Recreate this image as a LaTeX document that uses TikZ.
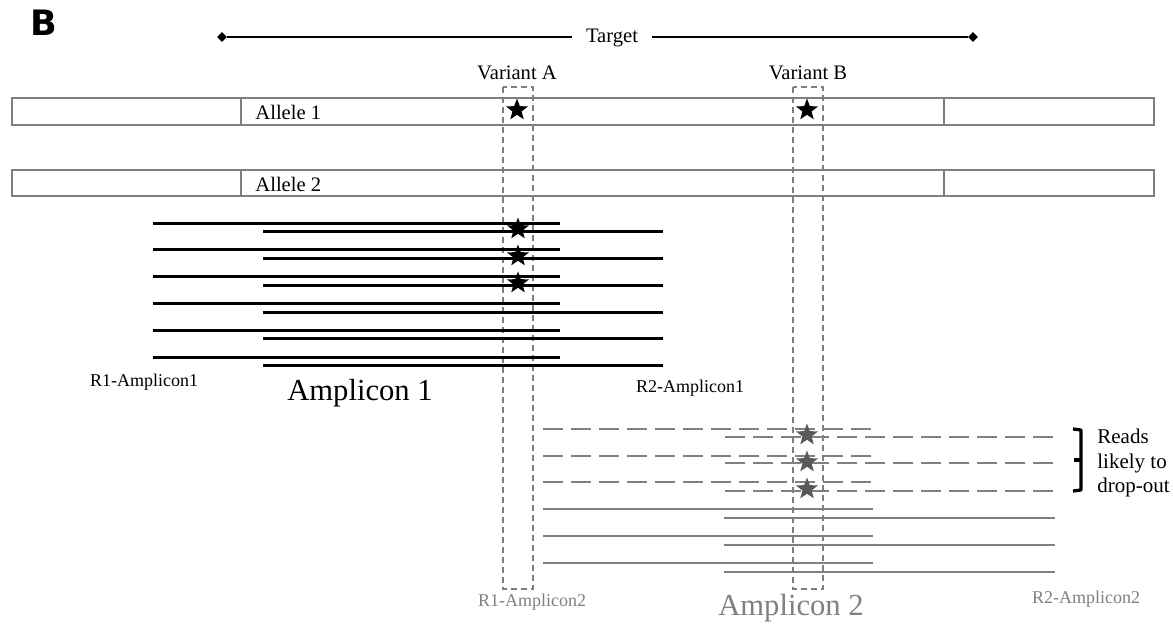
\documentclass[tikz,border=0pt]{standalone}
\usepackage{fontspec}
\setmainfont{Liberation Serif}
\newfontfamily\panelfont{DejaVu Sans}
\usetikzlibrary{shapes.geometric}
\definecolor{allelegray}{HTML}{7F7F7F}
\definecolor{ampgray}{HTML}{808080}
\definecolor{stargray}{HTML}{595959}

\begin{document}
\begin{tikzpicture}[x=0.5pt, y=-0.5pt,
    allele/.style={draw=allelegray, line width=1.3pt},
    window/.style={draw=allelegray, dash pattern=on 3pt off 2pt, line width=0.9pt},
    readA/.style={black, line width=1.5pt},
    readB/.style={ampgray, line width=1.2pt},
    dropout/.style={ampgray, line width=1.2pt, dash pattern=on 10pt off 4pt},
    snv/.style={star, star points=5, star point ratio=2.4, fill, inner sep=0pt, minimum size=11.5pt},
    tip/.style={diamond, fill, inner sep=0pt, minimum size=5pt},
    lbl/.style={inner sep=0pt, anchor=base, font=\fontsize{10.3}{12}\selectfont}]
    \useasboundingbox (0, 0) rectangle (1173, 629);
    \node[inner sep=0pt, anchor=base west, font=\panelfont\bfseries\fontsize{17.5}{20}\selectfont] (panel) at (30, 35) {B};
    % target span
    \node[tip] (tl) at (222, 37) {};
    \node[tip] (tr) at (973, 37) {};
    \node[inner xsep=7pt, inner ysep=0pt, font=\fontsize{10.3}{12}\selectfont] (target) at (612, 38) {Target};
    \draw[line width=0.9pt] (tl)--(tl-|target.west);
    \draw[line width=0.9pt] (tr-|target.east)--(tr);
    % alleles
    \draw[allele] (12, 98) rectangle (1154, 125);
    \draw[allele] (241, 98)--(241, 125);
    \draw[allele] (944, 98)--(944, 125);
    \draw[allele] (12, 170) rectangle (1154, 196);
    \draw[allele] (241, 170)--(241, 196);
    \draw[allele] (944, 170)--(944, 196);
    \node[lbl, anchor=base west] (al1) at (255, 119) {Allele 1};
    \node[lbl, anchor=base west] (al2) at (255, 191) {Allele 2};
    % variant windows
    \draw[window] (503, 87) rectangle (533, 589);
    \draw[window] (793, 87) rectangle (823, 589);
    \node[lbl] (varA) at (517, 79) {Variant A};
    \node[lbl] (varB) at (808, 79) {Variant B};
    \node[snv] (sA) at (517, 110) {};
    \node[snv] (sB) at (807, 110) {};
    % amplicon 1 reads
    \draw[readA] (153, 223)--(560, 223);
    \draw[readA] (153, 249)--(560, 249);
    \draw[readA] (153, 276)--(560, 276);
    \draw[readA] (153, 303)--(560, 303);
    \draw[readA] (153, 330)--(560, 330);
    \draw[readA] (153, 357)--(560, 357);
    \draw[readA] (263, 231)--(663, 231);
    \draw[readA] (263, 258)--(663, 258);
    \draw[readA] (263, 285)--(663, 285);
    \draw[readA] (263, 312)--(663, 312);
    \draw[readA] (263, 338)--(663, 338);
    \draw[readA] (263, 365)--(663, 365);
    \node[snv] (r1) at (518, 229) {};
    \node[snv] (r2) at (518, 256) {};
    \node[snv] (r3) at (518, 283) {};
    \node[lbl, font=\fontsize{9}{10}\selectfont] (fw1) at (144, 386) {R1-Amplicon1};
    \node[lbl, font=\fontsize{15.3}{18}\selectfont] (amp1) at (360, 400) {Amplicon 1};
    \node[lbl, font=\fontsize{9}{10}\selectfont] (rv1) at (690, 392) {R2-Amplicon1};
    % amplicon 2 reads
    \draw[dropout] (543, 429)--(873, 429);
    \draw[dropout] (543, 456)--(873, 456);
    \draw[dropout] (543, 482)--(873, 482);
    \draw[dropout] (725, 437)--(1055, 437);
    \draw[dropout] (725, 463)--(1055, 463);
    \draw[dropout] (725, 491)--(1055, 491);
    \draw[readB] (543, 509)--(873, 509);
    \draw[readB] (543, 536)--(873, 536);
    \draw[readB] (543, 563)--(873, 563);
    \draw[readB] (724, 518)--(1055, 518);
    \draw[readB] (724, 545)--(1055, 545);
    \draw[readB] (724, 572)--(1055, 572);
    \node[snv, stargray] (d1) at (807, 435) {};
    \node[snv, stargray] (d2) at (807, 462) {};
    \node[snv, stargray] (d3) at (807, 489) {};
    \draw[line width=1.6pt, line join=round] (1073, 429)--(1081, 430)--(1081, 490)--(1073, 491);
    \draw[line width=1.6pt] (1081, 460)--(1074, 460);
    \node[inner sep=0pt, anchor=north west, align=left, font=\fontsize{10.5}{12.2}\selectfont] (drop) at (1097, 429) {Reads\\likely to\\drop-out};
    \node[lbl, ampgray, font=\fontsize{9}{10}\selectfont] (fw2) at (532, 606) {R1-Amplicon2};
    \node[lbl, ampgray, font=\fontsize{15.3}{18}\selectfont] (amp2) at (791, 615) {Amplicon 2};
    \node[lbl, ampgray, font=\fontsize{9}{10}\selectfont] (rv2) at (1086, 603) {R2-Amplicon2};
  \end{tikzpicture}
\end{document}
